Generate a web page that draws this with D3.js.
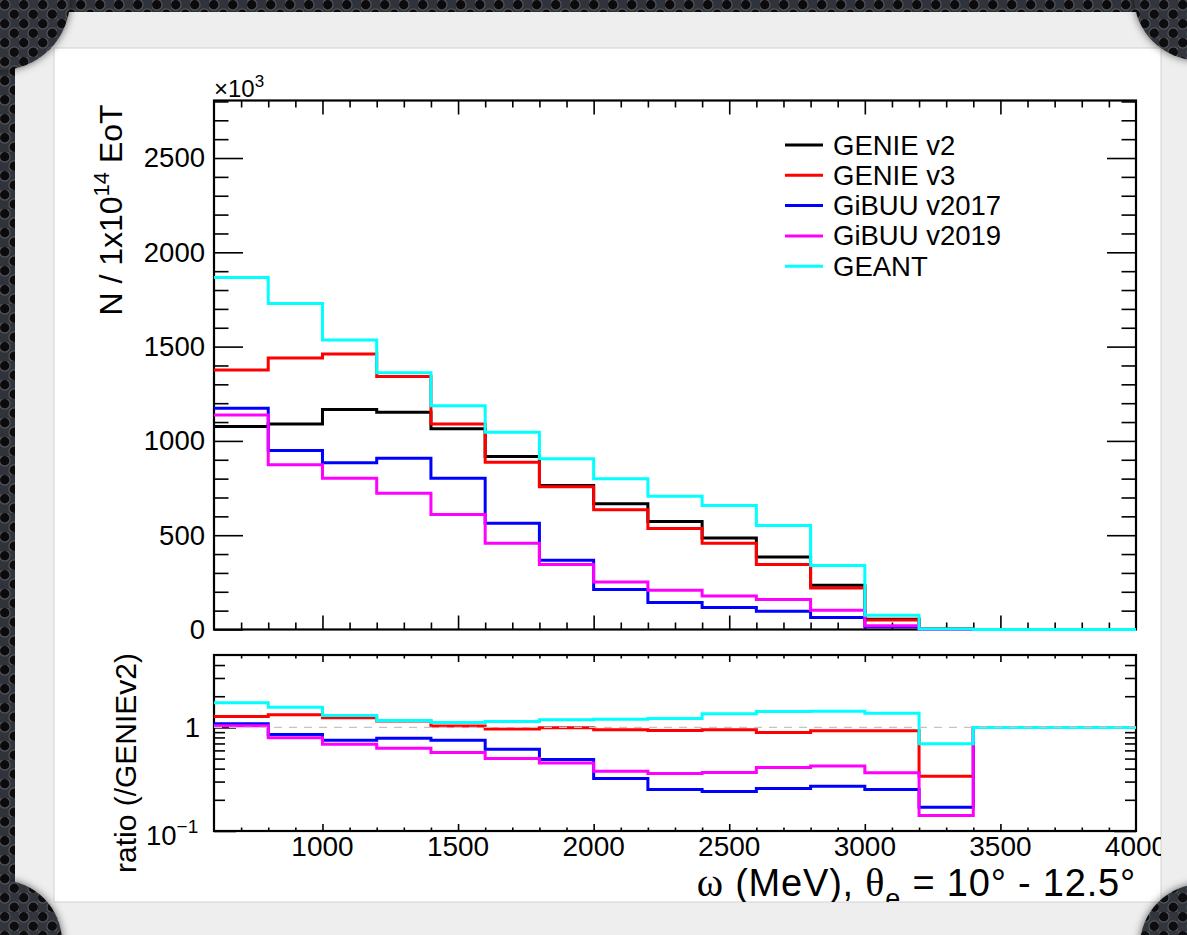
<!DOCTYPE html>
<html><head><meta charset="utf-8">
<script src="https://cdn.jsdelivr.net/npm/d3@7"></script>
<style>html,body{margin:0;padding:0;background:#25282d;} svg{display:block;}</style>
</head><body>
<svg id="c" width="1187" height="935"></svg>
<script>
// ---------- data ----------
const binEdges = [600,800,1000,1200,1400,1600,1800,2000,2200,2400,2600,2800,3000,3200,3400,3600,3800,4000];
const seriesNames = ["GENIE v2","GENIE v3","GiBUU v2017","GiBUU v2019","GEANT"];
const seriesColors = ["#000000","#ff0000","#0000ff","#ff00ff","#00ffff"];

const genieV2   = [1076,1090,1166,1152,1064,917,763,667,573,485,384,235,55,3,0,0,0];
const genieV3   = [1376,1440,1461,1341,1090,887,757,635,535,458,344,220,51,1,0,0,0];
const gibuu2017 = [1173,949,884,908,802,564,367,212,143,116,97,63,14,0.5,0,0,0];
const gibuu2019 = [1138,873,802,723,610,458,345,252,208,178,159,102,20,0.4,0,0,0];
const geant     = [1867,1729,1535,1362,1187,1046,905,799,706,658,552,340,76,2,0,0,0];

// ratios to GENIE v2 (lower pad)
const ratioGenieV3   = [1.276,1.325,1.24,1.15,1.03,0.963,0.99,0.95,0.936,0.95,0.895,0.93,0.93,0.338,1,1,1];
const ratioGibuu2017 = [1.085,0.856,0.75,0.784,0.75,0.614,0.489,0.321,0.252,0.241,0.257,0.271,0.252,0.17,1,1,1];
const ratioGibuu2019 = [1.038,0.796,0.686,0.628,0.571,0.5,0.454,0.378,0.359,0.367,0.41,0.425,0.364,0.1415,1,1,1];
const ratioGeant     = [1.727,1.567,1.304,1.168,1.117,1.142,1.186,1.2,1.22,1.353,1.425,1.435,1.373,0.697,1,1,1];

const mainYTicks = [0,500,1000,1500,2000,2500];
const xTickLabels = [1000,1500,2000,2500,3000,3500,4000];

// ---------- setup ----------
const svg = d3.select("#c");
const FONT = "'Liberation Sans', Arial, Helvetica, sans-serif";
const SERIF = "'Liberation Serif', 'Times New Roman', serif";
const defs = svg.append("defs");

const pat = defs.append("pattern").attr("id","metal").attr("patternUnits","userSpaceOnUse")
  .attr("width",19).attr("height",19);
pat.append("rect").attr("width",19).attr("height",19).attr("fill","#30343a");
[[4.75,4.75],[14.25,14.25]].forEach(([cx,cy])=>{
  pat.append("circle").attr("cx",cx).attr("cy",cy).attr("r",5.3).attr("fill","#0d0a0c")
    .attr("stroke","#50545c").attr("stroke-width",1.2);
});
const sh = defs.append("filter").attr("id","shadow").attr("x","-50%").attr("y","-50%").attr("width","200%").attr("height","200%");
sh.append("feDropShadow").attr("dx",0).attr("dy",0).attr("stdDeviation",4).attr("flood-color","#000").attr("flood-opacity",0.6);

svg.append("rect").attr("width",1187).attr("height",935).attr("fill","url(#metal)");
svg.append("rect").attr("x",15).attr("y",12).attr("width",1172).attr("height",923).attr("fill","#eeeeee");
svg.append("rect").attr("x",54).attr("y",48).attr("width",1107).attr("height",854).attr("fill","#ffffff")
  .attr("stroke","#d2d2d2").attr("stroke-width",1);
[[0,0,70],[1198,-4,64],[0,942,62],[1202,946,62]].forEach(([cx,cy,r])=>{
  svg.append("circle").attr("cx",cx).attr("cy",cy).attr("r",r).attr("fill","url(#metal)").attr("filter","url(#shadow)");
});

defs.append("clipPath").attr("id","card").append("rect").attr("x",54).attr("y",48).attr("width",1107).attr("height",854);
const g = svg.append("g").attr("clip-path","url(#card)");

// ---------- scales ----------
const x = d3.scaleLinear().domain([600,4000]).range([214,1136]);
const yMain = d3.scaleLinear().domain([0,2805]).range([629.5,100.5]);
const yRatio = d3.scaleLog().domain([0.1,5]).range([831,655]);

const mainTop = yMain.range()[1], mainBot = yMain.range()[0];
const rTop = yRatio.range()[1], rBot = yRatio.range()[0];

function styleAxis(sel, w){
  sel.select(".domain").remove();
  sel.selectAll(".tick line").attr("stroke","#000").attr("stroke-width",w||1.6);
}
const xMinor = d3.range(700,4000,100).filter(v=>v%500!==0);
const xMajor = xTickLabels.slice(0,-1);

// ---------- main pad ----------
g.append("g").attr("transform",`translate(${x(600)},0)`)
  .call(d3.axisLeft(yMain).tickValues(mainYTicks).tickSizeInner(-29).tickSizeOuter(0).tickPadding(9).tickFormat(d3.format("d")))
  .call(s=>{styleAxis(s); s.selectAll("text").attr("font-family",FONT).attr("font-size",27.5).attr("fill","#000");});
g.append("g").attr("transform",`translate(${x(600)},0)`)
  .call(d3.axisLeft(yMain).tickValues(d3.range(100,2801,100).filter(v=>v%500!==0)).tickSizeInner(-14.5).tickSizeOuter(0).tickFormat(""))
  .call(s=>styleAxis(s));
g.append("g").attr("transform",`translate(${x(4000)},0)`)
  .call(d3.axisRight(yMain).tickValues(mainYTicks).tickSizeInner(-29).tickSizeOuter(0).tickFormat(""))
  .call(s=>styleAxis(s));
g.append("g").attr("transform",`translate(${x(4000)},0)`)
  .call(d3.axisRight(yMain).tickValues(d3.range(100,2801,100).filter(v=>v%500!==0)).tickSizeInner(-14.5).tickSizeOuter(0).tickFormat(""))
  .call(s=>styleAxis(s));
[[mainBot, d3.axisBottom],[mainTop, d3.axisTop]].forEach(([yy, ax])=>{
  g.append("g").attr("transform",`translate(0,${yy})`)
    .call(ax(x).tickValues(xMajor).tickSizeInner(-14).tickSizeOuter(0).tickFormat("")).call(s=>styleAxis(s));
  g.append("g").attr("transform",`translate(0,${yy})`)
    .call(ax(x).tickValues(xMinor).tickSizeInner(-7).tickSizeOuter(0).tickFormat("")).call(s=>styleAxis(s));
});
g.append("rect").attr("x",x(600)).attr("y",mainTop).attr("width",x(4000)-x(600)).attr("height",mainBot-mainTop)
  .attr("fill","none").attr("stroke","#000").attr("stroke-width",2.2);

const stepLine = (ys)=>d3.line().curve(d3.curveStepAfter).x(d=>x(d[0])).y(d=>ys(d[1]));
function histPoints(vals){
  const pts = vals.map((v,i)=>[binEdges[i],v]);
  pts.push([binEdges[binEdges.length-1], vals[vals.length-1]]);
  return pts;
}
const mainSeries = [genieV2, genieV3, gibuu2017, gibuu2019, geant];
mainSeries.forEach((vals,i)=>{
  g.append("path").attr("d",stepLine(yMain)(histPoints(vals)))
    .attr("fill","none").attr("stroke",seriesColors[i]).attr("stroke-width",3);
});

const e3 = g.append("text").attr("x",x(600)).attr("y",97).attr("font-family",FONT).attr("font-size",24).attr("fill","#000");
e3.append("tspan").text("×10");
e3.append("tspan").attr("font-size",17).attr("dy",-10).text("3");

const yt = g.append("text").attr("transform","translate(122,210) rotate(-90)").attr("text-anchor","middle")
  .attr("font-family",FONT).attr("font-size",32).attr("fill","#000");
yt.append("tspan").text("N / 1x10");
yt.append("tspan").attr("font-size",22).attr("dy",-13).text("14");
yt.append("tspan").attr("dy",13).text(" EoT");

const leg = g.append("g");
seriesNames.forEach((nm,i)=>{
  const cy = 145 + i*30.3;
  leg.append("line").attr("x1",785).attr("x2",823).attr("y1",cy).attr("y2",cy)
    .attr("stroke",seriesColors[i]).attr("stroke-width",3);
  leg.append("text").attr("x",833).attr("y",cy+9.5).attr("font-family",FONT).attr("font-size",27.5).attr("fill","#000").text(nm);
});

// ---------- ratio pad ----------
const rMajor = [0.1,1];
const rMinor = [0.2,0.3,0.4,0.5,0.6,0.7,0.8,0.9,2,3,4];
[[x(600), d3.axisLeft],[x(4000), d3.axisRight]].forEach(([xx, ax])=>{
  g.append("g").attr("transform",`translate(${xx},0)`)
    .call(ax(yRatio).tickValues(rMajor).tickSizeInner(-22).tickSizeOuter(0).tickFormat("")).call(s=>styleAxis(s));
  g.append("g").attr("transform",`translate(${xx},0)`)
    .call(ax(yRatio).tickValues(rMinor).tickSizeInner(-11).tickSizeOuter(0).tickFormat("")).call(s=>styleAxis(s));
});
[[rBot, d3.axisBottom],[rTop, d3.axisTop]].forEach(([yy, ax])=>{
  g.append("g").attr("transform",`translate(0,${yy})`)
    .call(ax(x).tickValues(xMajor).tickSizeInner(-7).tickSizeOuter(0).tickFormat("")).call(s=>styleAxis(s));
  g.append("g").attr("transform",`translate(0,${yy})`)
    .call(ax(x).tickValues(xMinor).tickSizeInner(-3.5).tickSizeOuter(0).tickFormat("")).call(s=>styleAxis(s));
});
g.append("g").selectAll("text").data(xTickLabels).join("text")
  .attr("x",d=>x(d)).attr("y",855.5).attr("text-anchor","middle")
  .attr("font-family",FONT).attr("font-size",28).attr("fill","#000").text(d=>d);
g.append("text").attr("x",200).attr("y",yRatio(1)+10).attr("text-anchor","end")
  .attr("font-family",FONT).attr("font-size",27.5).attr("fill","#000").text("1");
const l01 = g.append("text").attr("x",146).attr("y",845).attr("font-family",FONT).attr("font-size",27.5).attr("fill","#000");
l01.append("tspan").text("10");
l01.append("tspan").attr("font-size",19).attr("dy",-12).text("−1");

g.append("rect").attr("x",x(600)).attr("y",rTop).attr("width",x(4000)-x(600)).attr("height",rBot-rTop)
  .attr("fill","none").attr("stroke","#000").attr("stroke-width",2.2);

const ratioSeries = [[ratioGenieV3,1],[ratioGibuu2017,2],[ratioGibuu2019,3],[ratioGeant,4]];
ratioSeries.forEach(([vals,ci])=>{
  g.append("path").attr("d",stepLine(yRatio)(histPoints(vals)))
    .attr("fill","none").attr("stroke",seriesColors[ci]).attr("stroke-width",3);
});
g.append("line").attr("x1",x(600)).attr("x2",x(4000)).attr("y1",yRatio(1)).attr("y2",yRatio(1))
  .attr("stroke","#c4c4c4").attr("stroke-width",1.4).attr("stroke-dasharray","8,7");

g.append("text").attr("transform","translate(136,763) rotate(-90)").attr("text-anchor","middle")
  .attr("font-family",FONT).attr("font-size",30).attr("fill","#000").text("ratio (/GENIEv2)");

const xt = g.append("text").attr("x",1136).attr("y",896).attr("text-anchor","end")
  .attr("font-family",FONT).attr("font-size",38).attr("letter-spacing",0.8).attr("fill","#000");
xt.append("tspan").attr("font-family",SERIF).attr("font-size",40).text("ω");
xt.append("tspan").text(" (MeV), ");
xt.append("tspan").attr("font-family",SERIF).attr("font-size",40).text("θ");
xt.append("tspan").attr("font-size",27).attr("dy",12).text("e");
xt.append("tspan").attr("dy",-12).text(" = 10° - 12.5°");
</script>
</body></html>
